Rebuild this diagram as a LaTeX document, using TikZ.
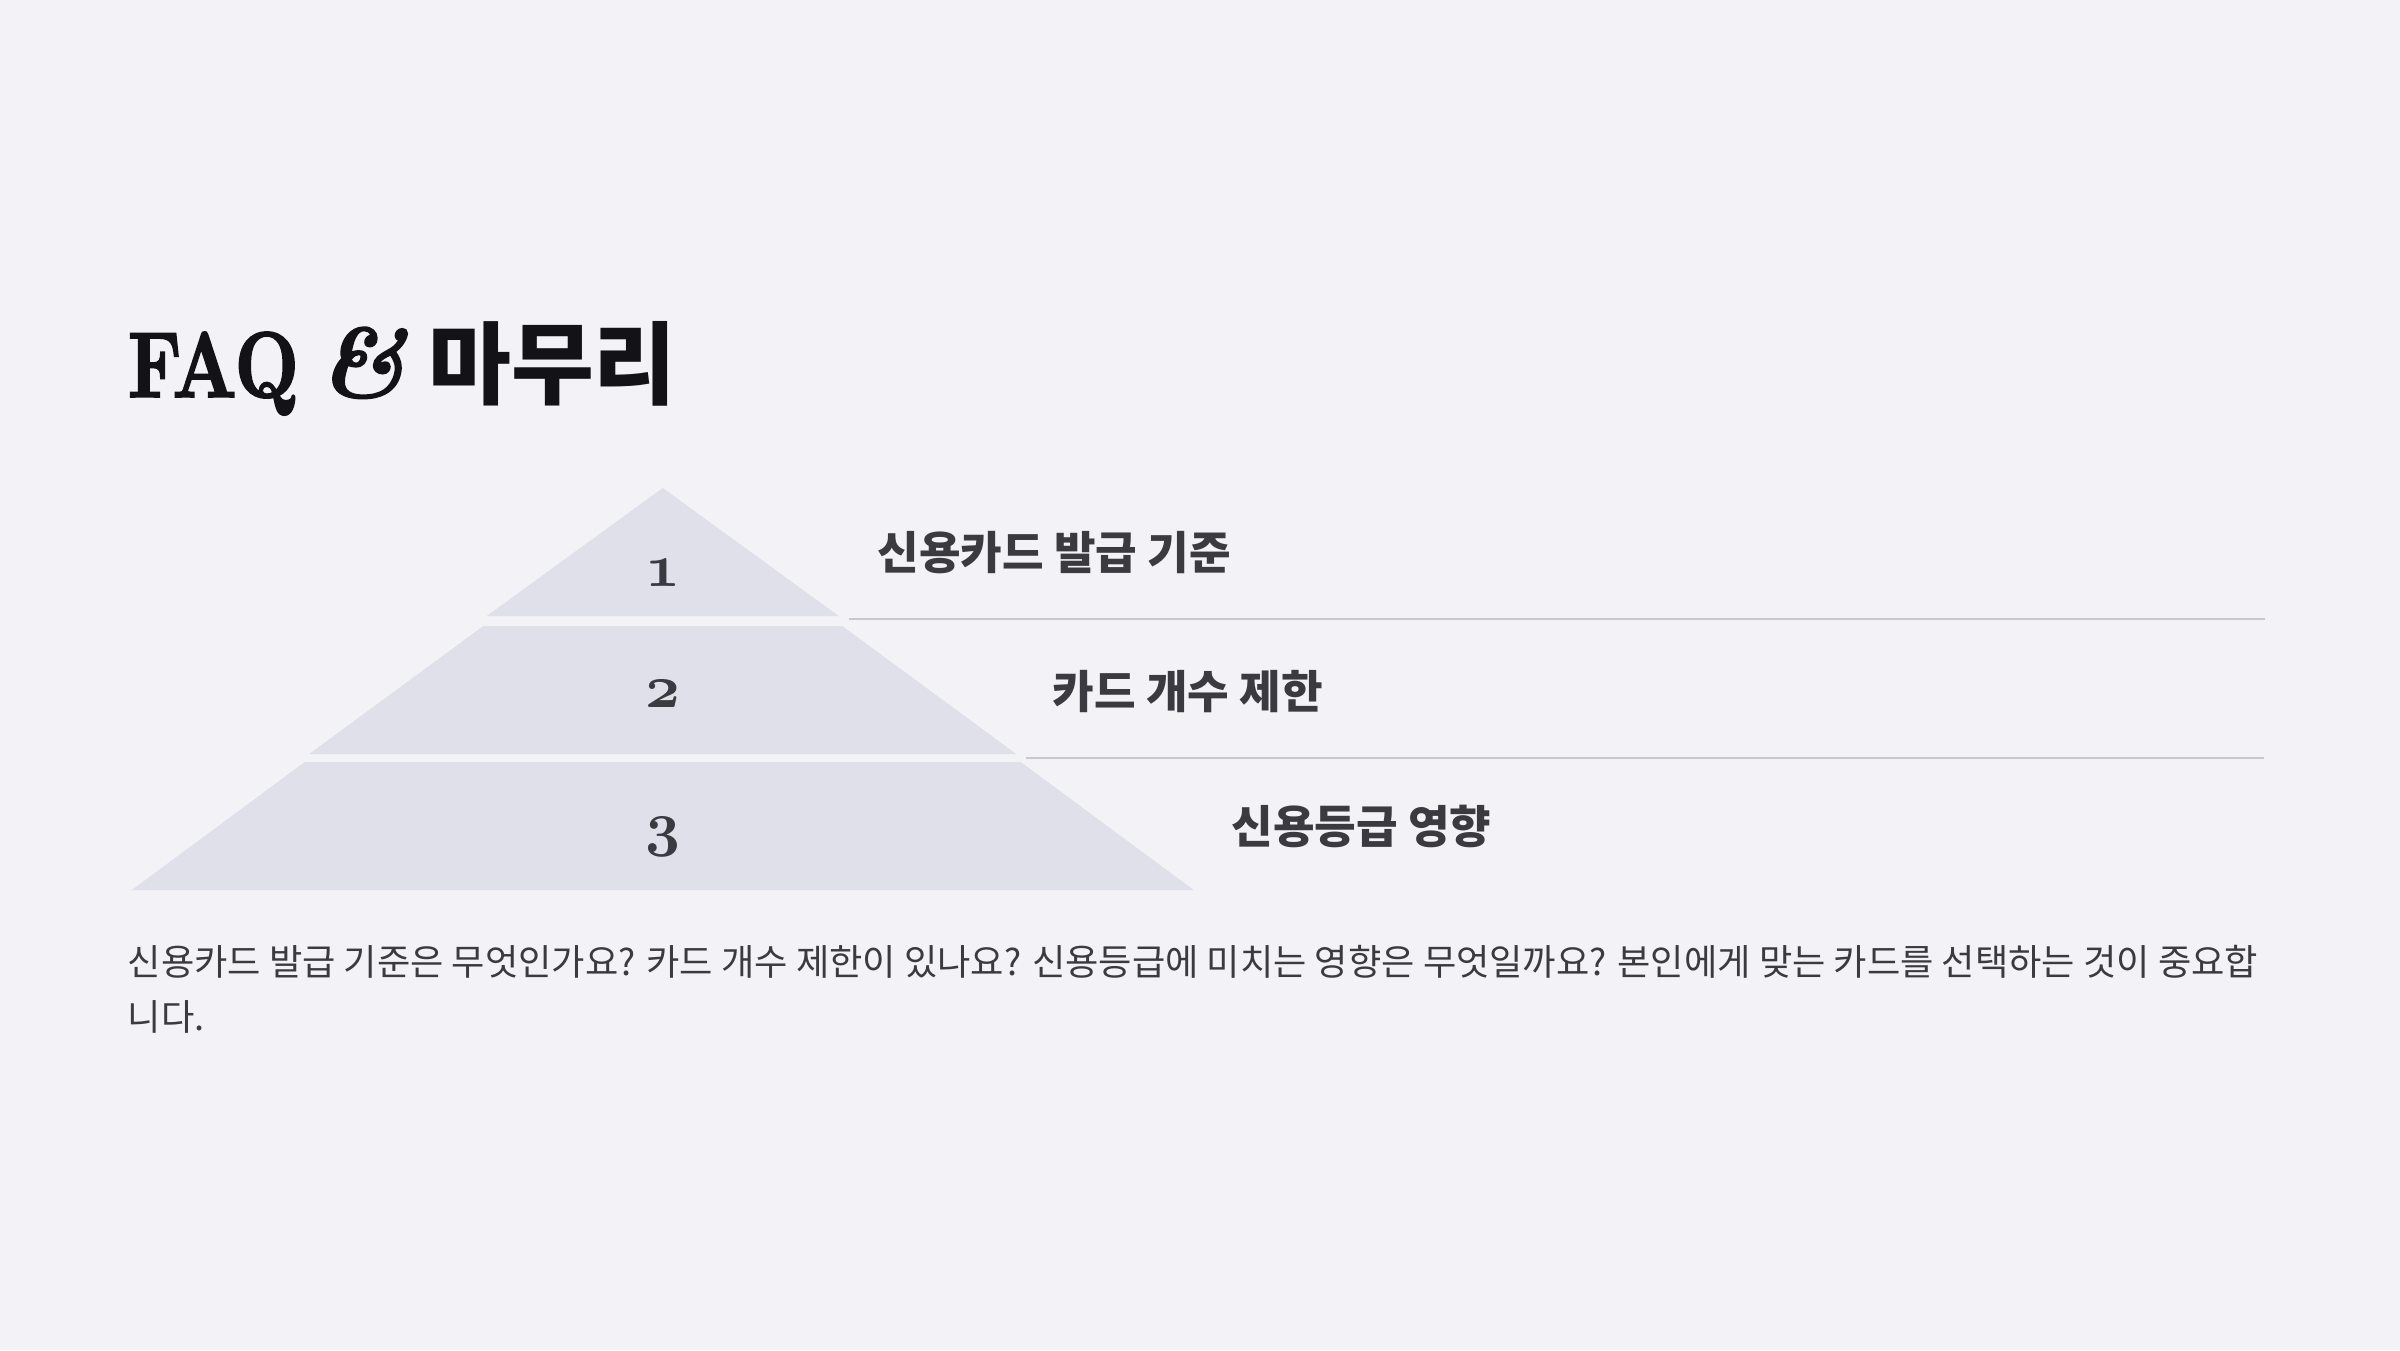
\documentclass[tikz,border=0pt]{standalone}
\usepackage{fontspec}
\usepackage{graphicx}
\newfontfamily\krfont{Noto Sans CJK KR}
\newfontfamily\titlefont{lmroman10-bold}[Extension=.otf, FakeBold=2]
\newfontfamily\titleamp{lmroman10-bolditalic}[Extension=.otf, FakeBold=1.5]

\definecolor{pagebg}{HTML}{F3F2F7}
\definecolor{tierfill}{HTML}{E0E0EB}
\definecolor{rulegray}{HTML}{C8C8D2}
\definecolor{titleink}{HTML}{121217}
\definecolor{textink}{HTML}{3A3A40}

% bold old-style figures for the pyramid
\newcommand{\tiernum}[1]{{\fontencoding{OML}\fontfamily{cmm}\fontseries{b}\fontshape{it}\fontsize{17.6}{20}\selectfont #1}}

\tikzset{
    tierlabel/.style={anchor=west, inner sep=0pt, text=textink, font=\krfont\bfseries\fontsize{12.85}{15}\selectfont},
    tiernumber/.style={inner sep=0pt, text=textink},
    bodytext/.style={anchor=base west, inner sep=0pt, text=textink, font=\krfont\fontsize{10.3}{15.6}\selectfont},
    divider/.style={draw=rulegray, line width=0.02cm},
}

\begin{document}
\begin{tikzpicture}[x=0.01cm, y=-0.01cm]
    % Page
    \fill[pagebg] (0,0) rectangle (2400,1350);
    \useasboundingbox (0,0) rectangle (2400,1350);

    % Title
    \node[anchor=base west, inner sep=0pt, text=titleink] (title) at (127,397)
        {\scalebox{0.8}[1]{\titlefont\fontsize{26.5}{30}\selectfont FAQ}\hspace{0.2cm}{\titleamp\fontsize{28}{30}\selectfont\&}\hspace{0.22cm}{\krfont\bfseries\fontsize{25.6}{29}\selectfont 마무리}};

    % Pyramid tiers
    \foreach \ytop/\ybot/\wtop/\wbot in {488/616/0/176, 626/754/179.5/353.5, 762/890/358/531} {
        \fill[tierfill] (662.75-\wtop,\ytop) -- (662.75+\wtop,\ytop) -- (662.75+\wbot,\ybot) -- (662.75-\wbot,\ybot) -- cycle;
    }

    \foreach \n/\y in {1/573, 2/694, 3/837} {
        \node[tiernumber] (num\n) at (663,\y) {\tiernum{\n}};
    }

    % Labels
    \node[tierlabel] (lab1) at (877,553) {신용카드 발급 기준};
    \node[tierlabel] (lab2) at (1052,692) {카드 개수 제한};
    \node[tierlabel] (lab3) at (1231,826) {신용등급 영향};

    % Dividers
    \coordinate (rule1a) at (849,619);
    \coordinate (rule1b) at (2265,619);
    \coordinate (rule2a) at (1026,758);
    \coordinate (rule2b) at (2264,758);
    \draw[divider] (rule1a) -- (rule1b);
    \draw[divider] (rule2a) -- (rule2b);

    % Body text
    \node[bodytext] (body1) at (127,975) {신용카드 발급 기준은 무엇인가요? 카드 개수 제한이 있나요? 신용등급에 미치는 영향은 무엇일까요? 본인에게 맞는 카드를 선택하는 것이 중요합};
    \node[bodytext] (body2) at (127,1030) {니다.};
\end{tikzpicture}
\end{document}
